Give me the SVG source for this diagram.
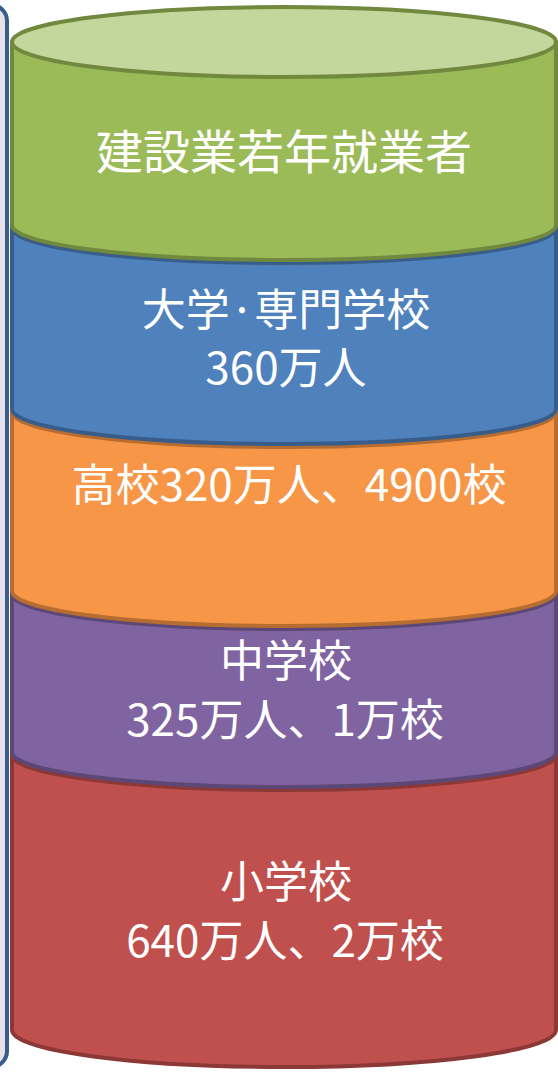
<svg xmlns="http://www.w3.org/2000/svg" width="558" height="1074" viewBox="0 0 558 1074">
<style>
.t{font-family:"Noto Sans CJK JP","Noto Sans",sans-serif;fill:#ffffff;text-anchor:middle;font-size:44px}
.sw{stroke-width:4;stroke-linejoin:round}
</style>
<rect x="0" y="0" width="558" height="1074" fill="#ffffff"/>
<g id="panel">
<rect x="-100" y="5" width="107" height="1062" rx="16" fill="#e6e0ec" stroke="#385d8a" stroke-width="4"/>
</g>
<g id="elementary">
<path class="sw" d="M12,753 L12,1030 A272,37 0 0 0 556,1030 L556,753 Z" fill="#c0504d" stroke="#8c3836"/>
<text class="t" x="286" y="898">小学校</text>
<text class="t" x="285" y="957">640万人、2万校</text>
</g>
<g id="junior">
<path d="M12,755 A272,35 0 0 0 556,755" fill="none" stroke="#8c3836" stroke-width="4"/>
<path class="sw" d="M12,592 L12,752 A272,35 0 0 0 556,752 L556,592 Z" fill="#8064a2" stroke="#5c4776"/>
<text class="t" x="286" y="677">中学校</text>
<text class="t" x="285" y="736">325万人、1万校</text>
</g>
<g id="highschool">
<path d="M12,594 A272,35 0 0 0 556,594" fill="none" stroke="#5c4776" stroke-width="4"/>
<path class="sw" d="M12,410 L12,591 A272,35 0 0 0 556,591 L556,410 Z" fill="#f79646" stroke="#b66d31"/>
<text class="t" x="289" y="501">高校320万人、4900校</text>
</g>
<g id="university">
<path d="M12,412 A272,35 0 0 0 556,412" fill="none" stroke="#b66d31" stroke-width="4"/>
<path class="sw" d="M12,226 L12,409 A272,35 0 0 0 556,409 L556,226 Z" fill="#4f81bd" stroke="#385d8a"/>
<text class="t" x="286" y="326">大学·専門学校</text>
<text class="t" x="286" y="384">360万人</text>
</g>
<g id="construction">
<path d="M12,228 A272,35 0 0 0 556,228" fill="none" stroke="#385d8a" stroke-width="4"/>
<path class="sw" d="M12,42 L12,225 A272,35 0 0 0 556,225 L556,42 Z" fill="#9bbb59" stroke="#71893f"/>
<ellipse class="sw" cx="284" cy="42" rx="272" ry="35" fill="#c3d69b" stroke="#71893f"/>
<text class="t" x="284" y="169" style="font-size:47px">建設業若年就業者</text>
</g>
<g id="connectors"></g>
</svg>
